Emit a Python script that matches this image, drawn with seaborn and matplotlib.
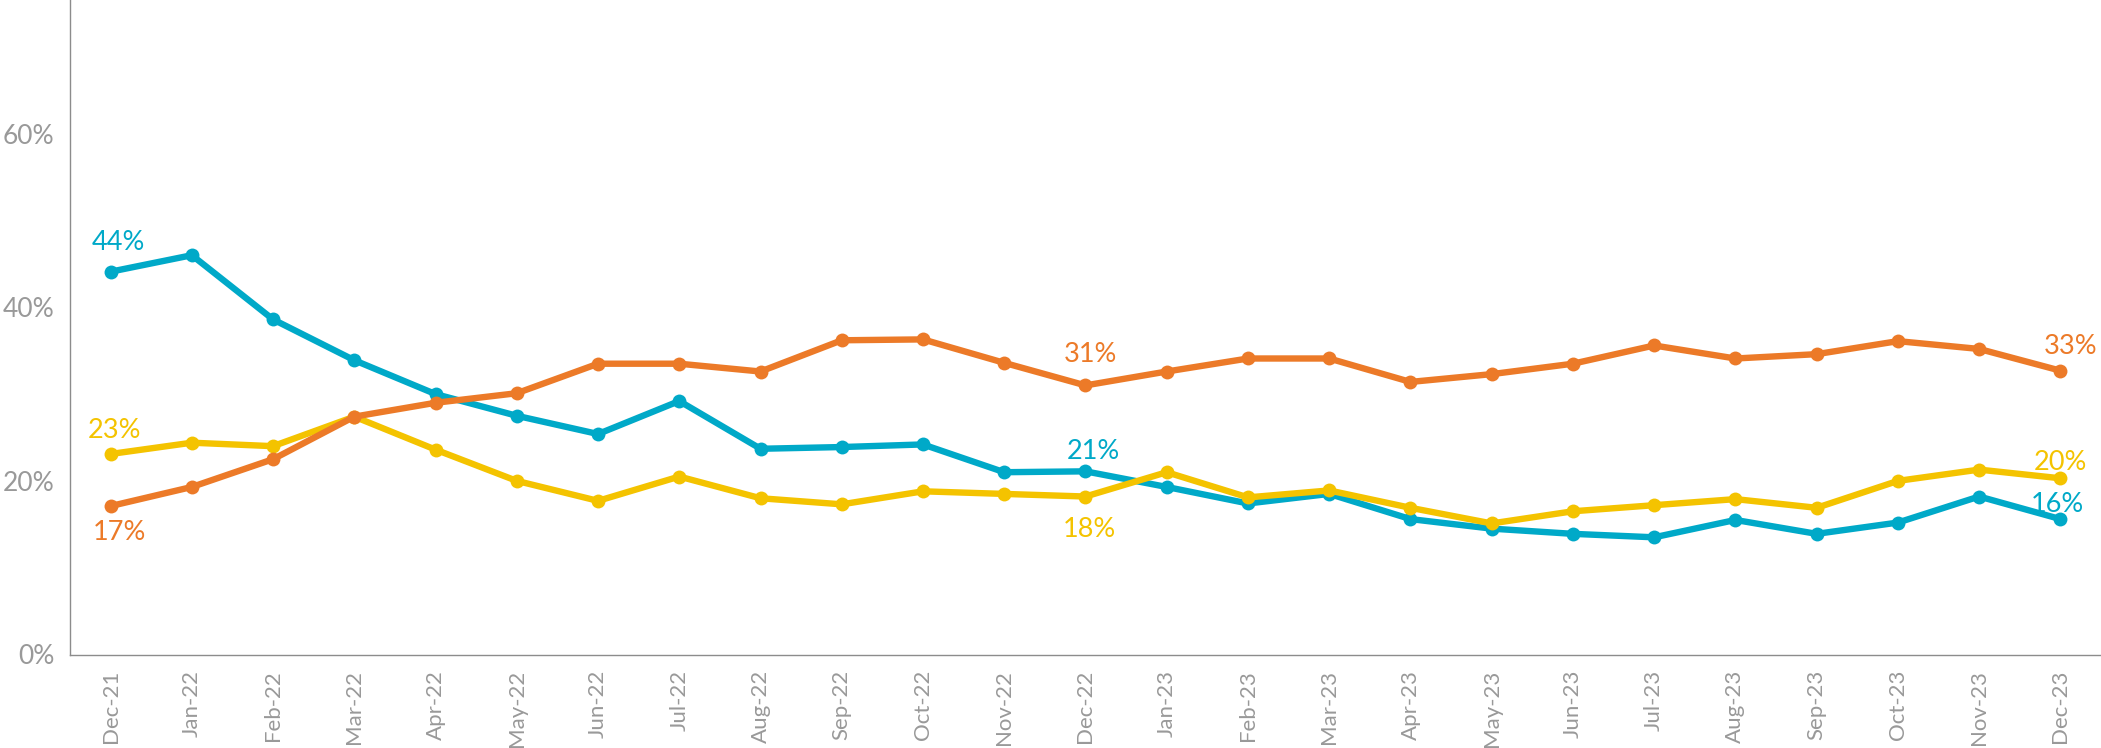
import pandas as pd
import matplotlib.pyplot as plt
import seaborn as sns

# monthly shares (%), Dec-21 .. Dec-23
months = ['Dec-21', 'Jan-22', 'Feb-22', 'Mar-22', 'Apr-22', 'May-22', 'Jun-22', 'Jul-22',
          'Aug-22', 'Sep-22', 'Oct-22', 'Nov-22', 'Dec-22', 'Jan-23', 'Feb-23', 'Mar-23',
          'Apr-23', 'May-23', 'Jun-23', 'Jul-23', 'Aug-23', 'Sep-23', 'Oct-23', 'Nov-23', 'Dec-23']

teal = [44.1, 46.0, 38.6, 33.9, 30.0, 27.5, 25.4, 29.2, 23.7, 23.9, 24.2, 21.0, 21.1,
        19.3, 17.4, 18.5, 15.6, 14.5, 13.9, 13.5, 15.5, 13.9, 15.2, 18.2, 15.6]
yellow = [23.1, 24.4, 24.0, 27.4, 23.6, 20.0, 17.7, 20.5, 18.0, 17.3, 18.8, 18.5, 18.2,
          21.0, 18.1, 18.9, 16.9, 15.1, 16.5, 17.2, 17.9, 16.9, 20.0, 21.3, 20.3]
orange = [17.1, 19.3, 22.5, 27.4, 29.0, 30.1, 33.5, 33.5, 32.6, 36.2, 36.3, 33.6, 31.0,
          32.6, 34.1, 34.1, 31.4, 32.3, 33.5, 35.6, 34.1, 34.6, 36.1, 35.2, 32.7]

series_names = ['teal', 'yellow', 'orange']
colors = {'teal': '#00a9c8', 'yellow': '#f4c300', 'orange': '#ec7a28'}

# which points carry a value label: (series, month index)
labelled = [('teal', 0), ('yellow', 0), ('orange', 0),
            ('orange', 12), ('teal', 12), ('yellow', 12),
            ('orange', 24), ('yellow', 24), ('teal', 24)]
# label offsets in pixels (dx, baseline dy)
label_offsets = {('teal', 0): (8, 22), ('yellow', 0): (4, 16), ('orange', 0): (9, -34),
                 ('orange', 12): (5, 23), ('teal', 12): (8, 12), ('yellow', 12): (4, -40),
                 ('orange', 24): (10, 17), ('yellow', 24): (0, 8), ('teal', 24): (-3, 7)}

values = {'teal': teal, 'yellow': yellow, 'orange': orange}
df = pd.DataFrame({
    'month': months * 3,
    'pos': list(range(len(months))) * 3,
    'value': teal + yellow + orange,
    'series': [s for s in series_names for _ in months],
})

sns.set_style('white')
plt.rcParams['font.family'] = ['Lato', 'DejaVu Sans']

fig = plt.figure(figsize=(21.01, 7.48), dpi=100)
ax = fig.add_axes([0.0333, 0.125, 0.9667, 0.875])

sns.lineplot(data=df, x='pos', y='value', hue='series', hue_order=series_names,
             palette=colors, linewidth=4.6, marker='o', markersize=10,
             markeredgewidth=0, legend=False, ax=ax)

for key in labelled:
    s, i = key
    v = values[s][i]
    dx, dy = label_offsets[key]
    ax.annotate(f'{round(v)}%', xy=(i, v), xytext=(dx, dy), textcoords='offset pixels',
                ha='center', va='baseline', fontsize=19.5, color=colors[s])

ax.set_xlim(-0.5, len(months) - 0.5)
ax.set_ylim(0, 75.4)
ax.set_xticks(range(len(months)))
ax.set_xticklabels(months, rotation=90, fontsize=16, color='#999999')
ax.set_xticks([i - 0.5 for i in range(len(months) + 1)], minor=True)
ax.tick_params(axis='x', which='major', length=0, pad=11)
ax.tick_params(axis='x', which='minor', length=7, color='#e8e8e8', width=1)
ax.set_yticks([0, 20, 40, 60])
ax.set_yticklabels(['0%', '20%', '40%', '60%'], fontsize=19, color='#999999')
ax.tick_params(axis='y', length=7, color='#e8e8e8', width=1, pad=4)
ax.set_xlabel('')
ax.set_ylabel('')

sns.despine(ax=ax)
for side in ['left', 'bottom']:
    ax.spines[side].set_color('#8c8c8c')
    ax.spines[side].set_linewidth(1)

fig.savefig('out.png', dpi=100)
